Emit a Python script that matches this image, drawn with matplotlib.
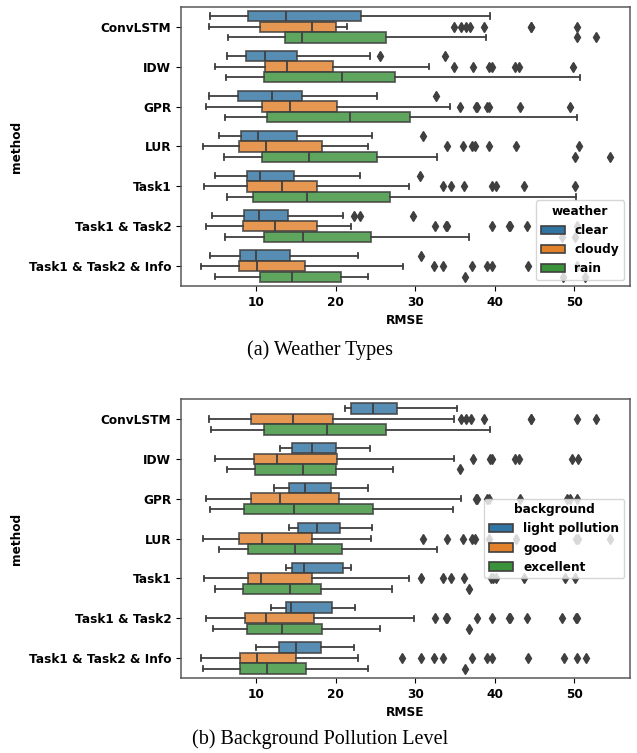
import numpy as np
import matplotlib
matplotlib.use("Agg")
from matplotlib import pyplot as plt
from matplotlib.patches import Patch

plt.rcParams['font.family'] = ['DejaVu Sans']
plt.rcParams['font.weight'] = 'bold'
plt.rcParams['axes.labelweight'] = 'bold'
plt.rcParams['font.size'] = 8.7

methods = ['ConvLSTM', 'IDW', 'GPR', 'LUR', 'Task1', 'Task1 & Task2',
           'Task1 & Task2 & Info']

# ---- (a) weather ----
clear_wlo = [4.21, 6.31, 4.08, 5.26, 4.75, 4.46, 4.21]
clear_q1 = [8.95, 8.70, 7.69, 8.07, 8.78, 8.45, 7.94]
clear_med = [13.73, 11.13, 11.93, 10.25, 10.46, 10.38, 10.0]
clear_q3 = [23.18, 15.16, 15.71, 15.08, 14.70, 13.99, 14.24]
clear_whi = [39.37, 24.31, 25.19, 24.52, 23.01, 20.95, 22.80]
clear_fliers = [[], [25.5, 33.7], [32.6], [30.9], [30.6], [22.3, 23.0, 29.7], [30.7]]

cloudy_wlo = [4.08, 4.84, 3.62, 3.29, 3.45, 3.71, 2.99]
cloudy_q1 = [10.42, 11.05, 10.67, 7.82, 8.87, 8.32, 7.82]
cloudy_med = [17.0, 13.86, 14.24, 11.26, 13.23, 12.31, 10.04]
cloudy_q3 = [19.95, 19.69, 20.11, 18.27, 17.64, 17.64, 16.13]
cloudy_whi = [21.37, 31.7, 34.3, 24.02, 29.18, 21.96, 28.38]
cloudy_fliers = [[34.8, 35.8, 36.35, 36.86, 38.58, 44.5, 44.6, 50.28],
                 [34.84, 37.28, 39.3, 39.6, 42.5, 43.07, 49.78],
                 [35.64, 37.6, 37.8, 39.0, 39.3, 43.15, 49.45],
                 [33.96, 36.02, 37.07, 37.53, 39.25, 42.6, 50.62],
                 [33.42, 34.5, 36.14, 39.58, 40.09, 43.7, 50.12],
                 [32.41, 33.8, 34.0, 39.63, 41.77, 41.9, 44.03, 50.37],
                 [32.28, 33.42, 37.1, 38.96, 39.58, 44.16, 50.37]]

rain_wlo = [6.39, 6.18, 6.01, 5.89, 6.27, 6.01, 4.8]
rain_q1 = [13.65, 11.0, 11.38, 10.71, 9.58, 10.92, 10.42]
rain_med = [15.75, 20.78, 21.79, 16.63, 16.34, 15.92, 14.49]
rain_q3 = [26.32, 27.46, 29.35, 25.19, 26.83, 24.44, 20.66]
rain_whi = [38.83, 50.66, 50.37, 32.66, 50.2, 36.69, 24.06]
rain_fliers = [[50.28, 52.67], [], [], [50.12, 54.48], [], [48.4, 50.1],
               [36.27, 48.6, 51.4]]

# ---- (b) background ----
light_wlo = [21.12, 12.94, 12.22, 14.07, 13.78, 11.8, 10.0]
light_q1 = [21.96, 14.49, 14.15, 15.29, 14.53, 13.78, 12.85]
light_med = [24.65, 17.0, 16.17, 17.68, 16.0, 14.32, 14.99]
light_q3 = [27.67, 19.99, 19.36, 20.53, 20.91, 19.57, 18.1]
light_whi = [35.22, 24.27, 24.02, 24.52, 21.88, 22.38, 22.3]
light_fliers = [[], [], [], [], [], [], []]

good_wlo = [4.08, 4.84, 3.62, 3.29, 3.45, 3.71, 2.99]
good_q1 = [9.29, 9.66, 9.29, 7.82, 8.95, 8.53, 7.9]
good_med = [14.57, 12.56, 12.98, 10.67, 10.63, 11.17, 10.08]
good_q3 = [19.65, 20.16, 20.41, 17.0, 17.05, 17.22, 15.03]
good_whi = [34.84, 34.88, 35.68, 24.39, 29.18, 29.81, 22.8]
good_fliers = [[35.72, 36.35, 36.94, 38.58, 44.5, 44.6, 50.28, 52.67],
               [37.28, 39.4, 39.6, 42.5, 43.07, 49.66, 50.5],
               [37.6, 37.8, 39.0, 39.3, 43.15, 49.1, 49.45, 50.37],
               [30.94, 34.0, 36.02, 37.07, 37.53, 39.3, 42.6, 50.2, 50.4, 54.45],
               [30.65, 33.42, 34.5, 36.14, 39.5, 39.8, 40.1, 43.7, 48.78, 50.12],
               [32.41, 33.9, 34.0, 37.78, 39.63, 41.77, 41.9, 44.03, 48.39, 50.2, 50.37],
               [28.34, 30.69, 32.28, 33.42, 37.1, 38.96, 39.58, 44.16, 48.75, 50.37, 51.46]]

exc_wlo = [4.25, 6.31, 4.12, 5.26, 4.8, 4.5, 3.25]
exc_q1 = [10.97, 9.87, 8.4, 8.95, 8.32, 8.78, 7.9]
exc_med = [18.94, 15.92, 14.74, 14.87, 14.28, 13.19, 11.3]
exc_q3 = [26.32, 20.03, 24.65, 20.74, 18.18, 18.27, 16.25]
exc_whi = [39.37, 27.2, 34.72, 32.7, 27.08, 25.61, 24.06]
exc_fliers = [[], [35.64], [], [], [36.77], [36.77], [36.27]]

colors = ['#3274a1', '#e1812c', '#3a923a']
edge = '#3f3f3f'


def stats(wlo, q1, med, q3, whi, fl):
    return [dict(whislo=wlo[i], q1=q1[i], med=med[i], q3=q3[i],
                 whishi=whi[i], fliers=fl[i]) for i in range(len(methods))]


def draw(ax, groups, labels, title, loc):
    w = 0.8 / 3
    for k, g in enumerate(groups):
        pos = np.arange(len(methods)) + (k - 1) * w
        bp = ax.bxp(stats(*g), positions=pos, widths=w * 0.98, vert=False,
                    patch_artist=True, manage_ticks=False,
                    boxprops=dict(edgecolor=edge, linewidth=1.3),
                    whiskerprops=dict(color=edge, linewidth=1.3),
                    capprops=dict(color=edge, linewidth=1.3),
                    medianprops=dict(color=edge, linewidth=1.3),
                    flierprops=dict(marker='d', markersize=5,
                                    markerfacecolor=edge, markeredgecolor=edge))
        for b in bp['boxes']:
            b.set_facecolor(colors[k])
            b.set_alpha(0.82)
    ax.set_yticks(np.arange(len(methods)))
    ax.set_yticklabels(methods)
    ax.set_ylim(len(methods) - 0.5, -0.5)
    ax.set_xlim(0.5, 57)
    ax.set_xticks([10, 20, 30, 40, 50])
    ax.set_xlabel('RMSE')
    ax.set_ylabel('method')
    for s in ax.spines.values():
        s.set_color('0.35')
        s.set_linewidth(1.1)
    handles = [Patch(facecolor=colors[k], edgecolor=edge, linewidth=1.2,
                     label=labels[k]) for k in range(3)]
    leg = ax.legend(handles=handles, title=title, loc=loc,
                    title_fontproperties={'weight': 'bold', 'size': 8.7})


fig = plt.figure(figsize=(6.37, 7.53), dpi=100)
ax1 = fig.add_axes([0.284, 0.620, 0.705, 0.371])
ax2 = fig.add_axes([0.284, 0.0996, 0.705, 0.3705])

draw(ax1, [(clear_wlo, clear_q1, clear_med, clear_q3, clear_whi, clear_fliers),
           (cloudy_wlo, cloudy_q1, cloudy_med, cloudy_q3, cloudy_whi, cloudy_fliers),
           (rain_wlo, rain_q1, rain_med, rain_q3, rain_whi, rain_fliers)],
     ['clear', 'cloudy', 'rain'], 'weather', 'lower right')
draw(ax2, [(light_wlo, light_q1, light_med, light_q3, light_whi, light_fliers),
           (good_wlo, good_q1, good_med, good_q3, good_whi, good_fliers),
           (exc_wlo, exc_q1, exc_med, exc_q3, exc_whi, exc_fliers)],
     ['light pollution', 'good', 'excellent'], 'background', 'center right')

fig.text(0.502, 1 - 350 / 753, '(a) Weather Types', ha='center', va='center',
         family='Liberation Serif', fontweight='normal', fontsize=14.5)
fig.text(0.502, 1 - 739 / 753, '(b) Background Pollution Level', ha='center',
         va='center', family='Liberation Serif', fontweight='normal', fontsize=14.5)

fig.savefig('out.png', dpi=100)
